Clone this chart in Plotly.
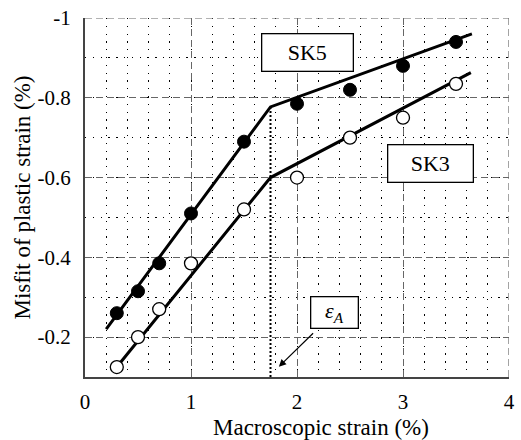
import plotly.graph_objects as go

# Data
x_pts = [0.3, 0.5, 0.7, 1.0, 1.5, 2.0, 2.5, 3.0, 3.5]
sk5 = [-0.26, -0.315, -0.385, -0.51, -0.69, -0.785, -0.82, -0.88, -0.94]
sk3 = [-0.125, -0.2, -0.27, -0.385, -0.52, -0.6, -0.7, -0.75, -0.835]

sk5_fit_x = [0.2, 1.75, 3.65]
sk5_fit_y = [-0.22, -0.777, -0.96]
sk3_fit_x = [0.3, 1.75, 3.64]
sk3_fit_y = [-0.125, -0.6, -0.863]

eps_a_x = [1.75, 1.75]
eps_a_y = [-0.1, -0.777]

x_ticks = [0, 1, 2, 3, 4]
x_ticktext = ["0", "1", "2", "3", "4"]
y_ticks = [-1, -0.8, -0.6, -0.4, -0.2]
y_ticktext = ["-1", "-0.8", "-0.6", "-0.4", "-0.2"]
x_minor = [0.2 * i for i in range(21)]
y_minor = [-0.1 * i for i in range(1, 11)]

x_title = "Macroscopic strain (%)"
y_title = "Misfit of plastic strain (%)"

FONT = "Liberation Serif, Times New Roman, serif"

fig = go.Figure()

fig.add_trace(go.Scatter(x=eps_a_x, y=eps_a_y, mode="lines",
                         line=dict(color="black", width=2, dash="2px,2px"),
                         showlegend=False, hoverinfo="skip"))
fig.add_trace(go.Scatter(x=sk5_fit_x, y=sk5_fit_y, mode="lines",
                         line=dict(color="black", width=3), showlegend=False))
fig.add_trace(go.Scatter(x=sk3_fit_x, y=sk3_fit_y, mode="lines",
                         line=dict(color="black", width=3), showlegend=False))
fig.add_trace(go.Scatter(x=x_pts, y=sk5, mode="markers", name="SK5",
                         marker=dict(color="black", size=13,
                                     line=dict(color="black", width=1)),
                         showlegend=False))
fig.add_trace(go.Scatter(x=x_pts, y=sk3, mode="markers", name="SK3",
                         marker=dict(color="white", size=13,
                                     line=dict(color="black", width=1.3)),
                         showlegend=False))

# border lines (top/right dashed like grid)
fig.add_shape(type="line", xref="x", yref="y", x0=0, x1=4, y0=-1, y1=-1,
              line=dict(color="#666", width=1.2, dash="7px,4px"))
fig.add_shape(type="line", xref="x", yref="y", x0=4, x1=4, y0=-1, y1=-0.1,
              line=dict(color="#666", width=1.2, dash="7px,4px"))

box = dict(bordercolor="black", borderwidth=1.3, bgcolor="white",
           showarrow=False, font=dict(family=FONT, size=22, color="black"))
fig.add_annotation(x=2.1, y=-0.9125, text="SK5", width=88, height=34, **box)
fig.add_annotation(x=3.26, y=-0.636, text="SK3", width=82, height=34, **box)
fig.add_annotation(x=2.35, y=-0.2625, text="<i>ε<sub>A</sub></i>",
                   width=44, height=28, **box)
fig.add_annotation(x=1.829, y=-0.126, ax=2.166, ay=-0.2133,
                   xref="x", yref="y", axref="x", ayref="y", text="",
                   showarrow=True, arrowhead=2, arrowsize=1.2, arrowwidth=1.2,
                   arrowcolor="black")

# axis titles
fig.add_annotation(xref="paper", yref="paper", x=0.556, y=0, yshift=-50,
                   xanchor="center", yanchor="middle", showarrow=False,
                   text=x_title, font=dict(family=FONT, size=23, color="black"))
fig.add_annotation(xref="paper", yref="paper", x=0, y=0.5, xshift=-63,
                   xanchor="center", yanchor="middle", showarrow=False,
                   textangle=-90, text=y_title,
                   font=dict(family=FONT, size=23, color="black"))

fig.update_xaxes(range=[0, 4], tickmode="array", tickvals=x_ticks,
                 ticktext=x_ticktext, showgrid=True, gridcolor="#666",
                 gridwidth=1.2, griddash="7px,4px",
                 minor=dict(tickmode="array", tickvals=x_minor, showgrid=True,
                            gridcolor="black", gridwidth=1.3,
                            griddash="1.3px,6.5px"),
                 showline=True, linecolor="#444", linewidth=2,
                 zeroline=False, ticks="", ticklabelstandoff=5,
                 tickfont=dict(family=FONT, size=21, color="black"))
fig.update_yaxes(range=[-0.1, -1], tickmode="array", tickvals=y_ticks,
                 ticktext=y_ticktext, showgrid=True, gridcolor="#666",
                 gridwidth=1.2, griddash="7px,4px",
                 minor=dict(tickmode="array", tickvals=y_minor, showgrid=True,
                            gridcolor="black", gridwidth=1.3,
                            griddash="1.3px,6.5px"),
                 showline=True, linecolor="#444", linewidth=2,
                 zeroline=False, ticks="", ticklabelstandoff=8,
                 tickfont=dict(family=FONT, size=21, color="black"))

fig.update_layout(width=521, height=440,
                  margin=dict(l=85, r=6, t=17, b=63),
                  plot_bgcolor="white", paper_bgcolor="white",
                  font=dict(family=FONT),
                  showlegend=False)

fig.write_html("out.html")
